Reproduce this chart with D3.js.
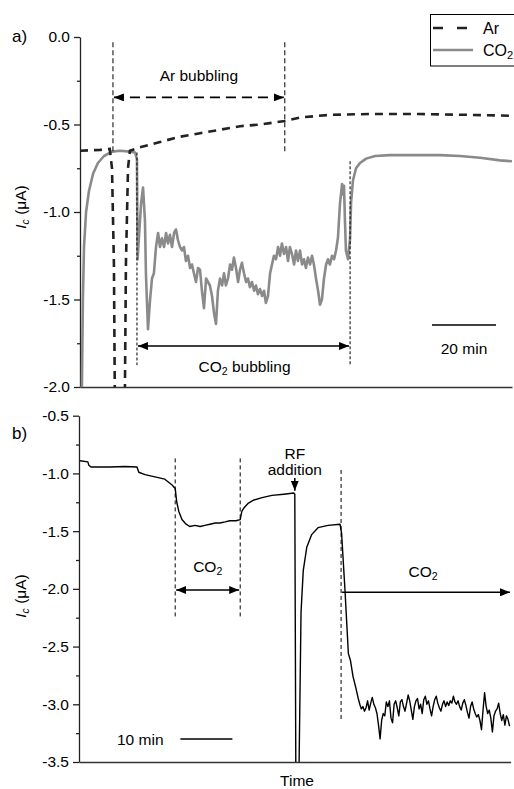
<!DOCTYPE html>
<html>
<head>
<meta charset="utf-8">
<script src="https://cdn.jsdelivr.net/npm/d3@7"></script>
<style>
  body { margin: 0; background: #fff; }
  text { font-family: "Liberation Sans", Arial, sans-serif; }
</style>
</head>
<body>
<svg id="chart" width="514" height="789"></svg>
<script>
// ---- panel a) data: [time (min), Ic (uA)] ----
const arA = [
  [0, -0.65], [6.25, -0.645], [9.3, -0.64], [10, -0.75], [10.6, -1.3], [10.9, -2.1],
  [14, -2.1], [14.35, -1.3], [15, -0.75], [15.6, -0.65], [18.75, -0.63], [25, -0.6],
  [31.25, -0.57], [37.5, -0.55], [43.75, -0.53], [50, -0.51], [56.25, -0.5], [64, -0.48],
  [68.75, -0.46], [78, -0.445], [90.6, -0.44], [106, -0.44], [122, -0.445], [135, -0.45]
];
const co2A = [
  [0.6, -2.0], [0.9, -1.5], [1.25, -1.2], [1.9, -1.0], [2.8, -0.88], [4.1, -0.78], [5.6, -0.72],
  [7.5, -0.68], [10, -0.655], [12.5, -0.65], [15.6, -0.655], [17.2, -0.66], [17.8, -0.7],
  [18, -1.27], [18.4, -1.15], [19.1, -0.95], [19.7, -0.86], [20.3, -1.05], [20.6, -1.35],
  [20.9, -1.5], [21.25, -1.67], [21.9, -1.5], [22.5, -1.38], [23.1, -1.35], [23.75, -1.2],
  [24.4, -1.12], [25, -1.2], [25.6, -1.15], [26.25, -1.2], [26.9, -1.12], [27.5, -1.18],
  [28.1, -1.13], [28.75, -1.2], [29.4, -1.12], [30, -1.1], [30.6, -1.16], [31.25, -1.2],
  [31.9, -1.22], [32.5, -1.2], [33.1, -1.28], [33.75, -1.25], [34.4, -1.32], [35, -1.3],
  [35.6, -1.35], [36.25, -1.4], [36.9, -1.32], [37.5, -1.33], [38.1, -1.45], [38.75, -1.55],
  [39.4, -1.38], [40, -1.4], [40.6, -1.42], [41.25, -1.48], [41.9, -1.58], [42.5, -1.64],
  [43.1, -1.45], [43.75, -1.38], [44.4, -1.42], [45, -1.35], [45.6, -1.42], [46.25, -1.38],
  [46.9, -1.3], [47.5, -1.33], [48.1, -1.26], [48.75, -1.32], [49.4, -1.4], [50, -1.33],
  [50.6, -1.29], [51.25, -1.35], [51.9, -1.4], [52.5, -1.38], [53.1, -1.43], [53.75, -1.4],
  [54.4, -1.45], [55, -1.42], [55.6, -1.47], [56.25, -1.44], [56.9, -1.48], [57.5, -1.45],
  [58.1, -1.52], [58.75, -1.48], [59.4, -1.35], [60, -1.3], [60.6, -1.25], [61.25, -1.27],
  [61.9, -1.2], [62.5, -1.25], [63.1, -1.18], [63.75, -1.24], [64.4, -1.2], [65, -1.28],
  [65.6, -1.2], [66.25, -1.24], [66.9, -1.3], [67.5, -1.22], [68.1, -1.28], [68.75, -1.22],
  [69.4, -1.3], [70, -1.27], [70.6, -1.32], [71.25, -1.26], [71.9, -1.3], [72.5, -1.25],
  [73.1, -1.3], [73.75, -1.38], [74.4, -1.45], [75, -1.53], [75.6, -1.5], [76.25, -1.38],
  [76.9, -1.3], [77.5, -1.27], [78.1, -1.3], [78.75, -1.25], [79.4, -1.27], [80, -1.22],
  [80.6, -1.15], [81.25, -0.95], [81.9, -0.84], [82.2, -0.9], [82.5, -0.85], [82.8, -1.05],
  [83.1, -1.22], [83.75, -1.27], [84.4, -1.15], [84.7, -0.95], [85.3, -0.82], [86.25, -0.75],
  [87.5, -0.72], [89.4, -0.695], [92.2, -0.68], [96.9, -0.675], [103.1, -0.675],
  [112.5, -0.675], [118.75, -0.68], [125, -0.69], [131.25, -0.705], [135, -0.71]
];
const arEventsA = [10.3, 64];      // Ar bubbling start / stop
const co2EventsA = [17.8, 84.4];   // CO2 bubbling start / stop

// ---- panel b) data ----
const currB = [
  [0.2, -0.89], [1.7, -0.9], [1.9, -0.93], [2.3, -0.945], [6, -0.945], [8.8, -0.94],
  [11.15, -0.945], [11.5, -0.99], [12.7, -1.01], [14.6, -1.03], [16.5, -1.05], [17.9, -1.1],
  [18.5, -1.13], [18.8, -1.25], [19.2, -1.33], [19.8, -1.4], [20.6, -1.44], [21.3, -1.46],
  [22.3, -1.45], [23.3, -1.46], [24.2, -1.45], [25.2, -1.44], [26.2, -1.43], [27.1, -1.43],
  [28.1, -1.42], [29, -1.41], [30.2, -1.41], [31, -1.4], [31.3, -1.33], [31.7, -1.3],
  [32.5, -1.26], [33.65, -1.23], [35.2, -1.21], [37.1, -1.19], [39.4, -1.18], [41.3, -1.17],
  [41.5, -1.18], [41.7, -3.6], [42.3, -3.6], [42.7, -2.2], [43.13, -1.84], [43.8, -1.64],
  [44.75, -1.53], [45.96, -1.47], [47.9, -1.45], [50.2, -1.44], [50.5, -1.52], [51.15, -2.01],
  [51.8, -2.56], [52.2, -2.62], [52.7, -2.76], [53.2, -2.85]
];
// noisy plateau after the second CO2 addition, one reading every 0.3 min from 53.7 min
const noiseStartB = 53.7;
const noiseStepB = 0.3;
const noiseValuesB = [
  -2.95, -3.0, -3.04, -3.02, -3.06, -3.03, -2.97, -3.05, -2.99, -2.94, -3.0, -3.03, -3.08,
  -3.18, -3.3, -3.14, -3.08, -3.1, -2.98, -3.02, -2.97, -3.12, -3.16, -3.0, -2.97, -3.03,
  -3.1, -2.98, -2.96, -3.02, -3.06, -2.99, -2.92, -2.97, -3.05, -3.13, -3.02, -2.97, -2.95,
  -3.04, -3.0, -3.08, -2.96, -2.93, -3.0, -2.97, -3.04, -3.1, -3.02, -2.96, -2.93, -2.99,
  -3.03, -3.06, -3.0, -2.97, -3.02, -2.98, -3.01, -2.97, -2.99, -2.93, -2.98, -3.0, -2.97,
  -3.02, -3.05, -2.99, -2.96, -3.01, -3.07, -3.12, -3.02, -2.98, -3.04, -3.08, -3.11, -3.09,
  -3.14, -3.22, -3.05, -2.9, -3.02, -3.08, -3.05, -3.12, -3.24, -3.1, -3.06, -3.04, -2.99,
  -3.08, -3.14, -3.09, -3.18, -3.1, -3.13, -3.19
];
const co2EventsB = [18.5, 31.0];
const rfTimeB = 41.5;
const co2StartB = 50.4;

const ticksA = [0, -0.5, -1, -1.5, -2];
const minorA = [-0.25, -0.75, -1.25, -1.75];
const ticksB = [-0.5, -1, -1.5, -2, -2.5, -3, -3.5];
const minorB = [-0.75, -1.25, -1.75, -2.25, -2.75, -3.25];

const svg = d3.select('#chart');

const defs = svg.append('defs');
defs.append('marker')
  .attr('id', 'head')
  .attr('viewBox', '0 0 10 8')
  .attr('refX', 10).attr('refY', 4)
  .attr('markerWidth', 10).attr('markerHeight', 8)
  .attr('markerUnits', 'userSpaceOnUse')
  .attr('orient', 'auto-start-reverse')
  .append('path').attr('d', 'M0,0L10,4L0,8Z').attr('fill', '#000');

const xA = d3.scaleLinear().domain([0, 135]).range([80, 512]);
const yA = d3.scaleLinear().domain([-2, 0]).range([387, 37]);
const xB = d3.scaleLinear().domain([0, 83]).range([79, 510.6]);
const yB = d3.scaleLinear().domain([-3.5, -0.5]).range([762, 415.7]);

defs.append('clipPath').attr('id', 'clipA').append('rect')
  .attr('x', 80).attr('y', 37).attr('width', 434).attr('height', 350);
defs.append('clipPath').attr('id', 'clipB').append('rect')
  .attr('x', 79).attr('y', 415).attr('width', 435).attr('height', 347);

function drawYAxis(x0, y, major, minor) {
  svg.append('g')
    .attr('transform', `translate(${x0},0)`)
    .call(d3.axisLeft(y).tickValues(major).tickSize(6).tickSizeOuter(0).tickPadding(4)
      .tickFormat(d => d.toFixed(1)))
    .call(g => g.selectAll('text').attr('font-size', 15.5).attr('fill', '#000')
      .style('font-family', '"Liberation Sans", Arial, sans-serif'))
    .call(g => g.selectAll('line, path').attr('stroke', '#222').attr('stroke-width', 1.3));
  svg.append('g')
    .attr('transform', `translate(${x0},0)`)
    .call(d3.axisLeft(y).tickValues(minor).tickSize(3).tickFormat(''))
    .call(g => g.select('.domain').remove())
    .call(g => g.selectAll('line').attr('stroke', '#222').attr('stroke-width', 1.3));
}

function drawXLine(x, y0) {
  svg.append('g')
    .attr('transform', `translate(0,${y0})`)
    .call(d3.axisBottom(x).tickValues([]).tickSizeOuter(0))
    .call(g => g.select('.domain').attr('stroke', '#333').attr('stroke-width', 1.3));
}

function yLabel(cx, cy) {
  const t = svg.append('text')
    .attr('transform', `translate(${cx},${cy}) rotate(-90)`)
    .attr('text-anchor', 'middle')
    .attr('font-size', 15.5);
  t.append('tspan').attr('font-style', 'italic').text('I');
  t.append('tspan').attr('font-style', 'italic').attr('font-size', 10.5).attr('dy', 3).text('c');
  t.append('tspan').attr('dy', -3).text(' (μA)');
}

function co2Text(x, y, size) {
  const t = svg.append('text').attr('x', x).attr('y', y)
    .attr('text-anchor', 'middle').attr('font-size', size);
  t.append('tspan').text('CO');
  t.append('tspan').attr('font-size', size * 0.68).attr('dy', 3).text('2');
  return t;
}

function vline(x, y1, y2, dash) {
  svg.append('line').attr('x1', x).attr('x2', x).attr('y1', y1).attr('y2', y2)
    .attr('stroke', '#000').attr('stroke-width', 1).attr('stroke-dasharray', dash);
}

function arrow(x1, y1, x2, y2, both, dash) {
  const l = svg.append('line').attr('x1', x1).attr('x2', x2).attr('y1', y1).attr('y2', y2)
    .attr('stroke', '#000').attr('stroke-width', 1.6)
    .attr('marker-end', 'url(#head)');
  if (both) l.attr('marker-start', 'url(#head)');
  if (dash) l.attr('stroke-dasharray', dash);
}

// ================= panel a =================
drawYAxis(80, yA, ticksA, minorA);
drawXLine(xA, 387);
yLabel(26, 207);
svg.append('text').attr('x', 12).attr('y', 42).attr('font-size', 17).text('a)');

const lineA = d3.line().x(d => xA(d[0])).y(d => yA(d[1]));
const gA = svg.append('g').attr('clip-path', 'url(#clipA)');
gA.append('path').datum(co2A).attr('d', lineA)
  .attr('fill', 'none').attr('stroke', '#8a8a8a').attr('stroke-width', 2.6)
  .attr('stroke-linejoin', 'round');
gA.append('path').datum(arA).attr('d', lineA)
  .attr('fill', 'none').attr('stroke', '#222').attr('stroke-width', 2.6)
  .attr('stroke-dasharray', '8,6');

// Ar bubbling
arEventsA.forEach(t => vline(xA(t), yA(-0.03), yA(-0.66), '5,3'));
arrow(xA(arEventsA[0]) + 1, yA(-0.345), xA(arEventsA[1]) - 1, yA(-0.345), true, '10,6');
svg.append('text').attr('x', (xA(arEventsA[0]) + xA(arEventsA[1])) / 2).attr('y', 81)
  .attr('text-anchor', 'middle').attr('font-size', 15.5).text('Ar bubbling');

// CO2 bubbling
vline(xA(co2EventsA[0]), yA(-0.66), yA(-1.875), '3,2');
vline(xA(co2EventsA[1]), yA(-0.71), yA(-1.875), '3,2');
arrow(xA(co2EventsA[0]) + 1, yA(-1.766), xA(co2EventsA[1]) - 1, yA(-1.766), true);
co2Text((xA(co2EventsA[0]) + xA(co2EventsA[1])) / 2 + 1, 372, 15.5).append('tspan')
  .attr('dy', -3).text(' bubbling');

// 20 min scale bar
svg.append('line').attr('x1', xA(110)).attr('x2', xA(130)).attr('y1', 325).attr('y2', 325)
  .attr('stroke', '#000').attr('stroke-width', 1.5);
svg.append('text').attr('x', xA(120)).attr('y', 354).attr('text-anchor', 'middle')
  .attr('font-size', 15.5).text('20 min');

// legend
const leg = svg.append('g');
leg.append('rect').attr('x', 430.5).attr('y', 14.5).attr('width', 100).attr('height', 51.5)
  .attr('fill', '#fff').attr('stroke', '#000').attr('stroke-width', 1);
leg.append('line').attr('x1', 433).attr('x2', 470).attr('y1', 28).attr('y2', 28)
  .attr('stroke', '#222').attr('stroke-width', 2.6).attr('stroke-dasharray', '10,14');
leg.append('text').attr('x', 483).attr('y', 34).attr('font-size', 16).text('Ar');
leg.append('line').attr('x1', 433).attr('x2', 473).attr('y1', 50).attr('y2', 50)
  .attr('stroke', '#8a8a8a').attr('stroke-width', 2.6);
const lt = leg.append('text').attr('x', 483).attr('y', 56).attr('font-size', 16);
lt.append('tspan').text('CO');
lt.append('tspan').attr('font-size', 11).attr('dy', 3).text('2');

// ================= panel b =================
drawYAxis(79, yB, ticksB, minorB);
drawXLine(xB, 762);
yLabel(26, 596);
svg.append('text').attr('x', 12).attr('y', 439).attr('font-size', 17).text('b)');
svg.append('text').attr('x', 297).attr('y', 786).attr('text-anchor', 'middle')
  .attr('font-size', 15.5).text('Time');

const seriesB = currB.concat(noiseValuesB.map((v, i) => [noiseStartB + i * noiseStepB, v]));
const lineB = d3.line().x(d => xB(d[0])).y(d => yB(d[1]));
svg.append('g').attr('clip-path', 'url(#clipB)')
  .append('path').datum(seriesB).attr('d', lineB)
  .attr('fill', 'none').attr('stroke', '#000').attr('stroke-width', 1.4)
  .attr('stroke-linejoin', 'round');

// first CO2 interval
co2EventsB.forEach(t => vline(xB(t), yB(-0.87), yB(-2.25), '4,3'));
arrow(xB(co2EventsB[0]) + 1, yB(-2.01), xB(co2EventsB[1]) - 1, yB(-2.01), true);
co2Text((xB(co2EventsB[0]) + xB(co2EventsB[1])) / 2, 572, 15.5);

// RF addition
svg.append('text').attr('x', xB(rfTimeB)).attr('y', 459).attr('text-anchor', 'middle')
  .attr('font-size', 15.5).text('RF');
svg.append('text').attr('x', xB(rfTimeB)).attr('y', 475).attr('text-anchor', 'middle')
  .attr('font-size', 15.5).text('addition');
arrow(xB(rfTimeB), 478, xB(rfTimeB), yB(-1.15), false);

// second CO2
vline(xB(co2StartB), yB(-0.97), yB(-3.14), '4,3');
arrow(xB(co2StartB) + 1, yB(-2.03), 510, yB(-2.03), false);
co2Text(423, 577, 15.5);

// 10 min scale bar
svg.append('line').attr('x1', xB(19.5)).attr('x2', xB(29.5)).attr('y1', 739).attr('y2', 739)
  .attr('stroke', '#000').attr('stroke-width', 1.5);
svg.append('text').attr('x', 117).attr('y', 745).attr('font-size', 15.5).text('10 min');
</script>
</body>
</html>
